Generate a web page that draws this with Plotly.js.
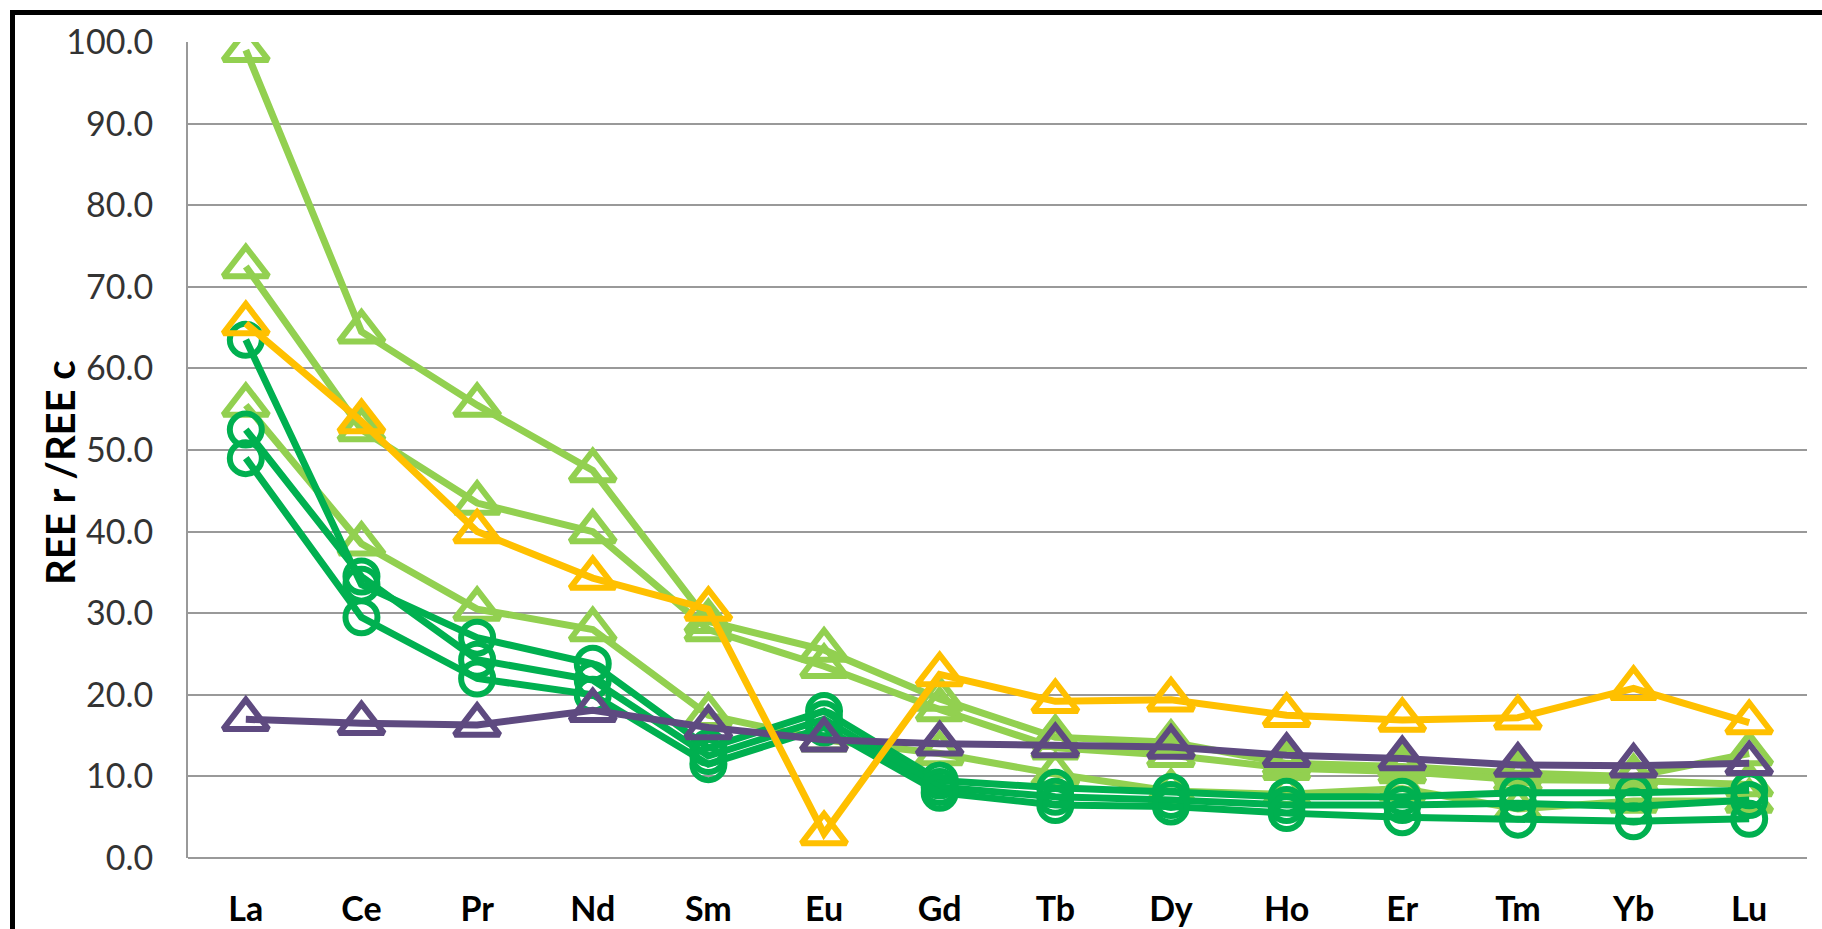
<!DOCTYPE html>
<html>
<head>
<meta charset="utf-8">
<script src="https://cdn.plot.ly/plotly-3.0.1.min.js"></script>
<style>
  html, body { margin: 0; padding: 0; background: #ffffff; }
  #chart { width: 1822px; height: 929px; }
</style>
</head>
<body>
<div id="chart"></div>
<script>
const categories = ['La', 'Ce', 'Pr', 'Nd', 'Sm', 'Eu', 'Gd', 'Tb', 'Dy', 'Ho', 'Er', 'Tm', 'Yb', 'Lu'];

// light green triangles
const lg1 = [99.0, 64.5, 55.5, 47.5, 29.0, 25.5, 19.5, 14.8, 14.2, 11.6, 11.2, 10.4, 10.0, 12.8];
const lg2 = [72.5, 52.5, 43.5, 40.0, 28.0, 23.5, 18.2, 13.5, 12.6, 11.0, 10.6, 9.6, 9.5, 9.0];
const lg3 = [55.5, 38.5, 30.5, 28.0, 17.5, 14.5, 12.8, 10.3, 8.2, 7.8, 8.5, 6.0, 7.0, 7.0];

// green circles
const gc1 = [63.5, 33.5, 27.0, 23.8, 13.5, 18.0, 9.5, 8.6, 8.1, 7.5, 7.5, 8.0, 8.0, 8.3];
const gc2 = [52.5, 34.5, 24.3, 21.8, 12.5, 17.0, 8.7, 7.5, 7.1, 6.5, 6.5, 6.7, 6.3, 7.1];
const gc3 = [49.0, 29.5, 22.0, 20.0, 11.5, 16.0, 8.0, 6.5, 6.3, 5.5, 5.0, 4.7, 4.5, 4.8];

// purple triangles
const pu1 = [17.0, 16.5, 16.3, 18.1, 16.0, 14.5, 14.0, 13.8, 13.6, 12.6, 12.2, 11.4, 11.3, 11.6];

// yellow triangles
const ye1 = [65.5, 53.5, 40.0, 34.3, 30.5, 3.0, 22.5, 19.2, 19.4, 17.5, 16.9, 17.2, 20.8, 16.6];

const yTickVals = [0, 10, 20, 30, 40, 50, 60, 70, 80, 90, 100];
const yTickText = ['0.0', '10.0', '20.0', '30.0', '40.0', '50.0', '60.0', '70.0', '80.0', '90.0', '100.0'];

const C_LG = '#92D050', C_GC = '#00B050', C_PU = '#5E4A80', C_YE = '#FFC000';

function tri(y, c) {
  return {
    x: categories, y: y, type: 'scatter', mode: 'lines+markers',
    line: { color: c, width: 7 },
    marker: { symbol: 'triangle-up-open', size: 39, color: c, line: { color: c, width: 6 } },
    hoverinfo: 'skip', showlegend: false
  };
}
function circ(y, c) {
  return {
    x: categories, y: y, type: 'scatter', mode: 'lines+markers',
    line: { color: c, width: 7 },
    marker: { symbol: 'circle-open', size: 32, color: c, line: { color: c, width: 6 } },
    hoverinfo: 'skip', showlegend: false
  };
}

const data = [
  tri(lg1, C_LG), tri(lg2, C_LG), tri(lg3, C_LG),
  circ(gc1, C_GC), circ(gc2, C_GC), circ(gc3, C_GC),
  tri(pu1, C_PU),
  tri(ye1, C_YE)
];

const layout = {
  width: 1822, height: 929,
  margin: { l: 188, r: 15, t: 42, b: 71, pad: 0 },
  paper_bgcolor: '#ffffff', plot_bgcolor: '#ffffff',
  showlegend: false,
  xaxis: {
    type: 'category', range: [-0.5, 13.5],
    showgrid: false, zeroline: false, showline: false,
    ticks: '', ticklabelstandoff: 28,
    tickfont: { family: 'Lato', size: 34, color: '#000000', weight: 'bold' }
  },
  yaxis: {
    range: [0, 100], tickvals: yTickVals, ticktext: yTickText,
    showgrid: true, gridcolor: '#999999', gridwidth: 2,
    zeroline: true, zerolinecolor: '#999999', zerolinewidth: 2,
    showline: true, linecolor: '#999999', linewidth: 2,
    ticks: '', ticklabelstandoff: 26,
    tickfont: { family: 'Lato', size: 34, color: '#333333' }
  },
  annotations: [{
    text: '<b>REE r /REE c</b>', textangle: -90,
    xref: 'paper', yref: 'paper', x: (60 - 188) / 1619, y: (858 - 473) / 816,
    xanchor: 'center', yanchor: 'middle', showarrow: false,
    font: { family: 'Lato', size: 40, color: '#000000' }
  }],
  shapes: [
    { type: 'line', xref: 'paper', yref: 'paper',
      x0: (12.5 - 188) / 1619, x1: (12.5 - 188) / 1619,
      y0: (858 - 10) / 816, y1: (858 - 935) / 816,
      line: { color: '#000000', width: 5 } },
    { type: 'line', xref: 'paper', yref: 'paper',
      x0: (10 - 188) / 1619, x1: (1830 - 188) / 1619,
      y0: (858 - 12.5) / 816, y1: (858 - 12.5) / 816,
      line: { color: '#000000', width: 5 } }
  ]
};

Plotly.newPlot('chart', data, layout, { staticPlot: true, displayModeBar: false });
</script>
</body>
</html>
